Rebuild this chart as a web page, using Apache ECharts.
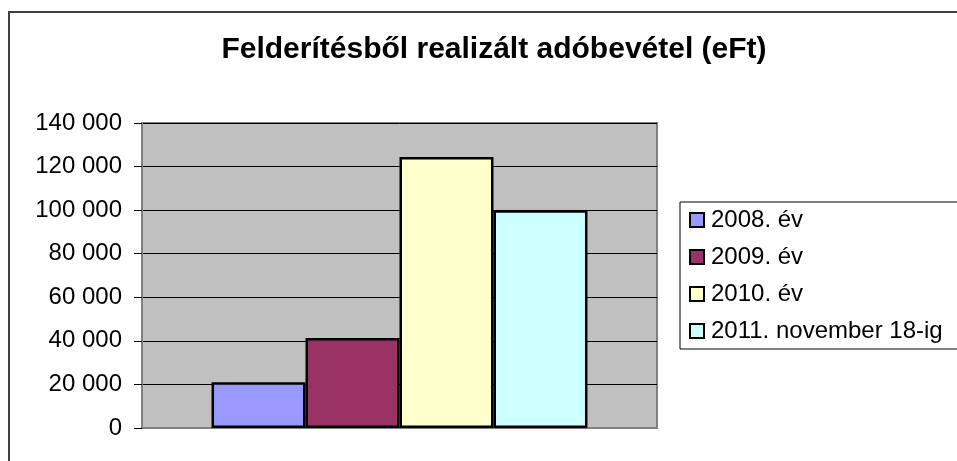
<!DOCTYPE html>
<html>
<head>
<meta charset="utf-8">
<script src="https://cdn.jsdelivr.net/npm/echarts@6/dist/echarts.min.js"></script>
<style>
  html, body { margin: 0; padding: 0; background: #fff; }
  #chart { width: 957px; height: 461px; }
</style>
</head>
<body>
<div id="chart"></div>
<script>
// adatok
const categories = ['']
const seriesNames = ['2008. év', '2009. év', '2010. év', '2011. november 18-ig']
const seriesValues = [[21000], [41300], [124400], [100000]]
const seriesColors = ['#9999FF', '#993366', '#FFFFCC', '#CCFFFF']
const yTicks = [0, 20000, 40000, 60000, 80000, 100000, 120000, 140000]

const font = '"Liberation Sans", Arial, sans-serif'

// szóközzel tagolt ezres formátum
const fmt = v => String(v).replace(/\B(?=(\d{3})+(?!\d))/g, ' ')

const chart = echarts.init(document.getElementById('chart'))

const option = {
  animation: false,
  backgroundColor: '#fff',
  title: {
    text: 'Felderítésből realizált adóbevétel (eFt)',
    left: 489,
    textAlign: 'center',
    top: 30,
    textStyle: { fontFamily: font, fontSize: 30, fontWeight: 'bold', color: '#000' }
  },
  legend: {
    orient: 'vertical',
    left: 680,
    top: 202,
    padding: [6, 40, 6, 9],
    itemWidth: 14,
    itemHeight: 14,
    itemGap: 13,
    borderColor: '#000',
    borderWidth: 1,
    backgroundColor: '#fff',
    icon: 'rect',
    data: seriesNames,
    textStyle: { fontFamily: font, fontSize: 24, color: '#000', padding: [0, 0, 0, 2] }
  },
  grid: {
    left: 142,
    top: 123,
    width: 515,
    height: 305,
    show: true,
    backgroundColor: '#C0C0C0',
    borderColor: '#808080',
    borderWidth: 2
  },
  xAxis: {
    type: 'category',
    data: categories,
    axisLine: { lineStyle: { color: '#808080', width: 2 } },
    axisTick: { show: false },
    axisLabel: { show: false }
  },
  yAxis: {
    type: 'value',
    min: yTicks[0],
    max: yTicks[yTicks.length - 1],
    interval: yTicks[1] - yTicks[0],
    axisLine: { show: true, lineStyle: { color: '#808080', width: 2 } },
    axisTick: { show: true, length: 8, lineStyle: { color: '#000' } },
    axisLabel: {
      margin: 20,
      fontFamily: font,
      fontSize: 24,
      color: '#000',
      formatter: fmt
    },
    splitLine: { lineStyle: { color: '#000', width: 1 } }
  },
  series: seriesNames.map((name, i) => ({
    name: name,
    type: 'bar',
    data: seriesValues[i],
    barGap: '0%',
    barCategoryGap: '27%',
    itemStyle: { color: seriesColors[i], borderColor: '#000', borderWidth: 2.5 }
  })),
  graphic: [
    {
      // külső diagramkeret
      type: 'rect',
      shape: { x: 9, y: 12, width: 1000, height: 500 },
      style: { fill: 'none', stroke: '#404040', lineWidth: 2 },
      silent: true,
      z: 100
    }
  ]
}

chart.setOption(option)
</script>
</body>
</html>
